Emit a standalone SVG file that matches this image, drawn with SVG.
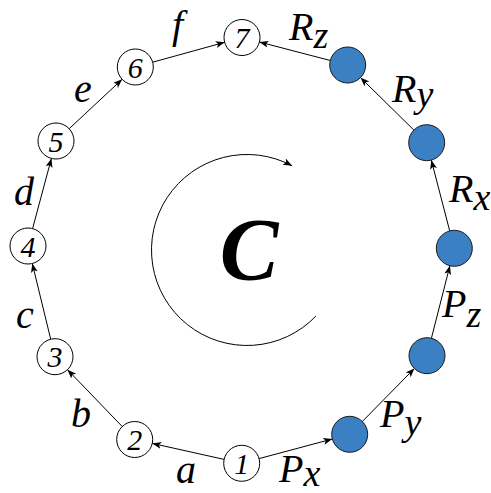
<svg xmlns="http://www.w3.org/2000/svg" width="491" height="493" viewBox="0 0 491 493">
<style>
.n{fill:#fff;stroke:#000;stroke-width:1}
.b{fill:#3a80c3;stroke:#1a1a1a;stroke-width:1}
.num{font-family:"Liberation Serif",Tinos,"Times New Roman","Nimbus Roman","DejaVu Serif",serif;font-style:italic;font-size:30px;text-anchor:middle;fill:#000}
.lab{font-family:"Liberation Serif",Tinos,"Times New Roman","Nimbus Roman","DejaVu Serif",serif;font-style:italic;font-size:40px;fill:#000}
.big{font-family:"Liberation Serif",Tinos,"Times New Roman","Nimbus Roman","DejaVu Serif",serif;font-style:italic;font-weight:bold;font-size:88px;text-anchor:middle;fill:#000}
.sub{font-size:38px}
.e{stroke:#000;stroke-width:1;fill:none;marker-end:url(#ah)}
</style>
<defs>
<marker id="ah" markerUnits="userSpaceOnUse" markerWidth="10" markerHeight="8" refX="9" refY="3.5" orient="auto">
<path d="M0,0 L9,3.5 L0,7 L2.2,3.5 z" fill="#000"/>
</marker>
</defs>
<rect width="491" height="493" fill="#fff"/>
<g id="connectors">
<line class="e" x1="224.1" y1="459.4" x2="152.3" y2="443.4"/>
<line class="e" x1="122.2" y1="426.5" x2="67.5" y2="369.7"/>
<line class="e" x1="50.7" y1="339.2" x2="32.3" y2="263.5"/>
<line class="e" x1="32.6" y1="228.6" x2="51.4" y2="158.4"/>
<line class="e" x1="69.2" y1="128.7" x2="122.1" y2="79.3"/>
<line class="e" x1="152.7" y1="62.2" x2="224.7" y2="42.3"/>
<line class="e" x1="330.3" y1="60.5" x2="259.4" y2="42.0"/>
<line class="e" x1="413.9" y1="130.1" x2="360.5" y2="77.6"/>
<line class="e" x1="449.7" y1="230.9" x2="431.3" y2="160.1"/>
<line class="e" x1="431.4" y1="338.3" x2="449.9" y2="265.7"/>
<line class="e" x1="362.3" y1="421.5" x2="414.4" y2="368.5"/>
<line class="e" x1="259.1" y1="458.6" x2="332.3" y2="439.0"/>
<path class="e" d="M315.9,316.1 A95.5,95.5 0 1 1 292.1,165.8"/>
</g>
<g id="node1"><circle class="n" cx="241.7" cy="463.3" r="18"/><text class="num" x="241.7" y="474">1</text></g>
<g id="node2"><circle class="n" cx="134.7" cy="439.5" r="18"/><text class="num" x="134.7" y="450.2">2</text></g>
<g id="node3"><circle class="n" cx="55" cy="356.7" r="18"/><text class="num" x="55" y="367.4">3</text></g>
<g id="node4"><circle class="n" cx="28" cy="246" r="18"/><text class="num" x="28" y="256.7">4</text></g>
<g id="node5"><circle class="n" cx="56" cy="141" r="18"/><text class="num" x="56" y="151.7">5</text></g>
<g id="node6"><circle class="n" cx="135.3" cy="67" r="18"/><text class="num" x="135.3" y="77.7">6</text></g>
<g id="node7"><circle class="n" cx="242" cy="37.5" r="18"/><text class="num" x="242" y="48.2">7</text></g>
<g id="nodeB1"><circle class="b" cx="347.7" cy="65" r="18"/></g>
<g id="nodeB2"><circle class="b" cx="426.7" cy="142.7" r="18"/></g>
<g id="nodeB3"><circle class="b" cx="454.3" cy="248.3" r="18"/></g>
<g id="nodeB4"><circle class="b" cx="427" cy="355.7" r="18"/></g>
<g id="nodeB5"><circle class="b" cx="349.7" cy="434.3" r="18"/></g>
<g id="labels">
<text class="lab" x="176" y="483">a</text>
<text class="lab" x="71" y="427">b</text>
<text class="lab" x="16" y="328">c</text>
<text class="lab" x="14" y="205">d</text>
<text class="lab" x="74" y="102">e</text>
<text class="lab" x="172" y="38">f</text>
<text class="lab" x="289" y="40">R<tspan class="sub" dy="8">z</tspan></text>
<text class="lab" x="392" y="102">R<tspan class="sub" dy="5">y</tspan></text>
<text class="lab" x="449" y="202">R<tspan class="sub" dy="8">x</tspan></text>
<text class="lab" x="442" y="317">P<tspan class="sub" dy="10">z</tspan></text>
<text class="lab" x="380" y="427">P<tspan class="sub" dy="8">y</tspan></text>
<text class="lab" x="279" y="482">P<tspan class="sub" dy="4">x</tspan></text>
<text class="big" x="249" y="279">C</text>
</g>
</svg>
